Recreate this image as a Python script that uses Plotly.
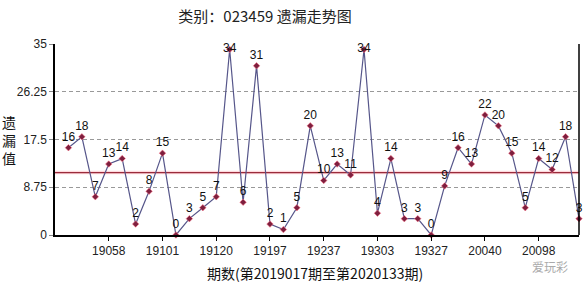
import plotly.graph_objects as go

# Data
values = [16, 18, 7, 13, 14, 2, 8, 15, 0, 3, 5, 7, 34, 6, 31, 2, 1, 5, 20, 10,
          13, 11, 34, 4, 14, 3, 3, 0, 9, 16, 13, 22, 20, 15, 5, 14, 12, 18, 3]
tick_index = [3, 7, 11, 15, 19, 23, 27, 31, 35]
tick_labels = ["19058", "19101", "19120", "19197", "19237", "19303", "19327", "20040", "20098"]
y_ticks = [0, 8.75, 17.5, 26.25, 35]
y_tick_labels = ["0", "8.75", "17.5", "26.25", "35"]

x = list(range(len(values)))
avg = sum(values) / len(values)

text_pos = ["middle center" if v >= 34 else "top center" for v in values]

fig = go.Figure()

# average line (with soft glow)
fig.add_trace(go.Scatter(x=[-1, len(values) - 1], y=[avg, avg], mode="lines",
                         line=dict(color="rgba(255,160,170,0.4)", width=3.5),
                         hoverinfo="skip", showlegend=False))
fig.add_trace(go.Scatter(x=[-1, len(values) - 1], y=[avg, avg], mode="lines",
                         line=dict(color="#9a2c3c", width=1.1),
                         hoverinfo="skip", showlegend=False))

fig.add_trace(go.Scatter(
    x=x, y=values, mode="lines+markers+text",
    line=dict(color="#56568a", width=1.2),
    marker=dict(color="#7e1f3e", size=5, symbol="diamond",
                line=dict(color="rgba(255,120,140,0.55)", width=1)),
    text=[str(v) for v in values], textposition=text_pos,
    textfont=dict(family="Liberation Sans, Arial", size=12, color="#111"),
    cliponaxis=False, showlegend=False))

fig.update_layout(
    width=586, height=289,
    margin=dict(l=55, r=7, t=44, b=54),
    paper_bgcolor="white", plot_bgcolor="white",
    title=dict(text="类别：023459 遗漏走势图", x=265 / 586, xanchor="center",
               y=1 - 17 / 289, yanchor="middle",
               font=dict(family="Noto Sans CJK SC", size=15, color="#222")),
    xaxis=dict(range=[-1, len(values) - 1], tickmode="array", tickvals=tick_index,
               ticktext=tick_labels, showgrid=False, zeroline=False,
               showline=True, linecolor="#000", linewidth=1.5,
               ticks="outside", ticklen=4, tickcolor="#000",
               tickfont=dict(family="Liberation Sans, Arial", size=12, color="#222"),
               mirror=False),
    yaxis=dict(range=[0, 35], tickmode="array", tickvals=y_ticks, ticktext=y_tick_labels,
               showgrid=True, gridcolor="#999", griddash="4px,3px", gridwidth=1,
               zeroline=False, showline=True, linecolor="#000", linewidth=1.5,
               ticks="outside", ticklen=4, tickcolor="#888",
               tickfont=dict(family="Liberation Sans, Arial", size=12, color="#222")),
)

# right border
fig.add_shape(type="line", xref="paper", yref="paper", x0=1, x1=1, y0=0, y1=1,
              line=dict(color="#000", width=1.5))

fig.add_annotation(text="遗<br>漏<br>值", xref="paper", yref="paper",
                   x=-46 / 524, y=0.5, xanchor="center", yanchor="middle",
                   showarrow=False,
                   font=dict(family="Noto Sans CJK SC", size=14, color="#111"))
fig.add_annotation(text="期数(第2019017期至第2020133期)", xref="paper", yref="paper",
                   x=(315 - 55) / 524, y=-38 / 191, xanchor="center", yanchor="middle",
                   showarrow=False,
                   font=dict(family="Noto Sans CJK SC", size=14, color="#111"))
fig.add_annotation(text="爱玩彩", xref="paper", yref="paper",
                   x=(550 - 55) / 524, y=-31 / 191, xanchor="center", yanchor="middle",
                   showarrow=False,
                   font=dict(family="Noto Sans CJK SC", size=12, color="#aaa"))

fig.write_html("out.html")
